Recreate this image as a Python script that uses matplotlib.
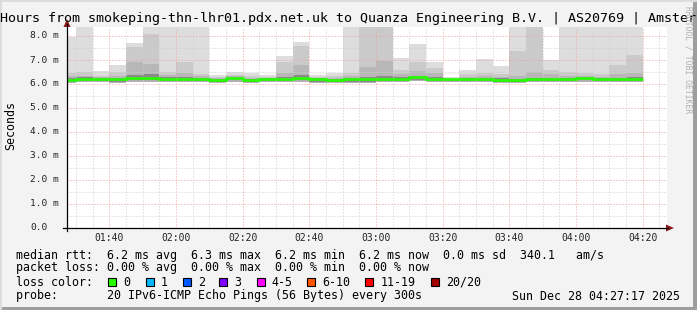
import matplotlib
matplotlib.use("Agg")
import matplotlib.pyplot as plt
import numpy as np
from matplotlib.patches import Polygon, Rectangle
from matplotlib.lines import Line2D

# ---------------- data ----------------
title = "Hours from smokeping-thn-lhr01.pdx.net.uk to Quanza Engineering B.V. | AS20769 | Amster"
bin_start_min = 85          # 01:25, minutes since midnight
bin_step_min = 5
view_start_min = 87 + 17 / 60   # 01:27:17
view_end_min = 267 + 17 / 60    # 04:27:17

# per-bin ping statistics (ms), 35 bins of 5 min
rtt_max = [7.97, 8.6, 6.54, 6.79, 7.69, 8.6, 8.6, 8.6, 8.6, 6.36, 6.50, 6.44, 6.36, 7.17, 7.75, 6.36, 6.44, 8.6,
           8.6, 8.6, 7.08, 7.67, 6.92, 6.29, 6.58, 7.03, 6.75, 8.6, 8.6, 7.00, 8.6, 8.6, 8.6, 8.6, 8.6]
rtt_hi1 = [6.45, 6.50, 6.35, 6.50, 7.56, 8.10, 6.50, 6.92, 6.40, 6.28, 6.38, 6.33, 6.30, 6.92, 7.57, 6.30, 6.32, 6.45,
           8.6, 8.6, 6.58, 6.92, 6.67, 6.25, 6.40, 6.45, 6.40, 7.38, 8.6, 6.58, 6.50, 6.45, 6.40, 6.80, 7.21]
rtt_hi2 = [6.32, 6.35, 6.28, 6.35, 6.90, 6.83, 6.38, 6.45, 6.32, 6.24, 6.32, 6.25, 6.25, 6.45, 6.80, 6.25, 6.25, 6.32,
           6.70, 6.95, 6.40, 6.55, 6.45, 6.22, 6.30, 6.35, 6.30, 6.35, 6.50, 6.40, 6.35, 6.32, 6.30, 6.40, 6.45]
rtt_hi3 = [6.24, 6.28, 6.26, 6.26, 6.36, 6.40, 6.28, 6.30, 6.27, 6.21, 6.28, 6.22, 6.23, 6.30, 6.36, 6.23, 6.21, 6.25,
           6.30, 6.32, 6.28, 6.33, 6.28, 6.22, 6.25, 6.27, 6.23, 6.22, 6.26, 6.25, 6.26, 6.28, 6.24, 6.26, 6.28]
rtt_med = [6.17, 6.22, 6.22, 6.20, 6.25, 6.25, 6.22, 6.22, 6.22, 6.18, 6.25, 6.18, 6.20, 6.22, 6.25, 6.20, 6.18, 6.20,
           6.20, 6.20, 6.22, 6.28, 6.22, 6.20, 6.22, 6.22, 6.18, 6.17, 6.20, 6.20, 6.22, 6.25, 6.20, 6.20, 6.22]
rtt_lo = [6.10, 6.12, 6.12, 6.10, 6.15, 6.15, 6.12, 6.12, 6.12, 6.10, 6.15, 6.10, 6.12, 6.12, 6.15, 6.10, 6.10, 6.10,
          6.10, 6.12, 6.12, 6.18, 6.12, 6.12, 6.12, 6.12, 6.10, 6.10, 6.12, 6.12, 6.12, 6.15, 6.12, 6.12, 6.12]
rtt_min = [6.05, 6.08, 6.08, 6.05, 6.10, 6.10, 6.08, 6.08, 6.08, 6.05, 6.10, 6.05, 6.08, 6.08, 6.10, 6.05, 6.05, 6.05,
           6.05, 6.08, 6.08, 6.12, 6.08, 6.08, 6.08, 6.08, 6.05, 6.05, 6.08, 6.08, 6.08, 6.10, 6.08, 6.08, 6.08]

y_ticks = [0, 1, 2, 3, 4, 5, 6, 7, 8]
y_tick_labels = ["0.0", "1.0 m", "2.0 m", "3.0 m", "4.0 m", "5.0 m", "6.0 m", "7.0 m", "8.0 m"]
x_ticks_min = [100, 120, 140, 160, 180, 200, 220, 240, 260]
x_tick_labels = ["01:40", "02:00", "02:20", "02:40", "03:00", "03:20", "03:40", "04:00", "04:20"]

legend_rtt = "median rtt:  6.2 ms avg  6.3 ms max  6.2 ms min  6.2 ms now  0.0 ms sd  340.1   am/s"
legend_loss = "packet loss: 0.00 % avg  0.00 % max  0.00 % min  0.00 % now"
loss_labels = ["0", "1", "2", "3", "4-5", "6-10", "11-19", "20/20"]
loss_colors = ["#26ff00", "#00b8ff", "#0059ff", "#7e00ff", "#ff00ff", "#ff5500", "#ff0000", "#a10000"]
probe_text = "probe:       20 IPv6-ICMP Echo Pings (56 Bytes) every 300s"
date_text = "Sun Dec 28 04:27:17 2025"
credit = "RRDTOOL / TOBI OETIKER"

# ---------------- layout ----------------
W, H = 697, 310
fig = plt.figure(figsize=(W / 100, H / 100), dpi=100)
fig.patch.set_facecolor("#f3f3f3")

def fx(px):
    return px / W

def fy(py):
    return 1 - py / H

PL, PR, PT, PB = 67, 667, 27, 228
ax = fig.add_axes([fx(PL), fy(PB), fx(PR - PL), (PB - PT) / H])
ax.set_facecolor("white")
for s in ax.spines.values():
    s.set_visible(False)
ax.set_xlim(view_start_min, view_end_min)
ymax = (PB - PT) / 24.0
ax.set_ylim(0, ymax)
ax.set_xticks([])
ax.set_yticks([])

n = len(rtt_med)
edges = bin_start_min + bin_step_min * np.arange(n + 1)

def ext(a):
    a = np.asarray(a, float)
    return np.append(a, a[-1])

# smoke layers
ax.fill_between(edges, ext(rtt_min), ext(rtt_max), step="post", color="#dddddd", lw=0, zorder=2)
ax.fill_between(edges, ext(rtt_lo), ext(rtt_hi1), step="post", color="#cacaca", lw=0, zorder=3)
ax.fill_between(edges, ext(rtt_lo), ext(rtt_hi2), step="post", color="#b7b7b7", lw=0, zorder=4)
ax.fill_between(edges, ext(rtt_lo), ext(rtt_hi3), step="post", color="#8a8a8a", lw=0, zorder=4)
ax.fill_between(edges, ext(rtt_min), ext(rtt_lo), step="post", color="#b0b0b0", lw=0, zorder=4)

# grid
dot = (0, (1, 2))
for m in np.arange(90, view_end_min, 5):
    if m % 20 != 0:
        ax.axvline(m, color="#cfcfcf", lw=0.72, ls=dot, zorder=5)
for m in x_ticks_min:
    ax.axvline(m, color="#f0a0a0", lw=0.72, ls=dot, zorder=5)
for v in np.arange(0.5, ymax, 1.0):
    ax.axhline(v, color="#cfcfcf", lw=0.72, ls=dot, zorder=5)
for v in y_ticks[1:]:
    ax.axhline(v, color="#f0a0a0", lw=0.72, ls=dot, zorder=5)

# median line
ax.step(edges, ext(rtt_med), where="post", color=loss_colors[0], lw=1.9, zorder=6,
        solid_joinstyle="miter", solid_capstyle="butt")

# tick labels
mono = "DejaVu Sans Mono"
for v, lab in zip(y_ticks, y_tick_labels):
    fig.text(fx(30), fy(PB - v * 24), lab, ha="left", va="center", fontsize=6.8, family=mono, color="#222222")
for m, lab in zip(x_ticks_min, x_tick_labels):
    xpx = PL + (m - view_start_min) * (PR - PL) / (view_end_min - view_start_min)
    fig.text(fx(xpx), fy(238), lab, ha="center", va="center", fontsize=7, family=mono, color="#222222")

# axes lines and arrows
fig.add_artist(Line2D([fx(63), fx(668)], [fy(PB), fy(PB)], color="black", lw=0.9))
fig.add_artist(Line2D([fx(PL), fx(PL)], [fy(231), fy(24)], color="black", lw=0.9))
arrow_c = "#8e1c1c"
fig.add_artist(Polygon([[fx(666), fy(224.5)], [fx(674), fy(PB)], [fx(666), fy(231.5)]], closed=True,
                       color=arrow_c, lw=0))
fig.add_artist(Polygon([[fx(63.5), fy(27)], [fx(PL), fy(19)], [fx(70.5), fy(27)]], closed=True,
                       color=arrow_c, lw=0))

# title and axis label
fig.text(fx(0), fy(18.5), title, ha="left", va="center", fontsize=9.6, family=mono, color="black")
fig.text(fx(11), fy(125), "Seconds", ha="center", va="center", rotation=90, fontsize=8.4, family=mono)
fig.text(fx(688), fy(60), credit, ha="center", va="center", rotation=270, fontsize=5.8, family=mono,
         color="#b0b0b0")

# legend
fs = 8.4
fig.text(fx(16), fy(255), legend_rtt, ha="left", va="center", fontsize=fs, family=mono)
fig.text(fx(16), fy(268), legend_loss, ha="left", va="center", fontsize=fs, family=mono)
fig.text(fx(16), fy(282), "loss color:", ha="left", va="center", fontsize=fs, family=mono)
box_x = [108, 145.7, 182.7, 219.3, 256.7, 307.3, 365.3, 430.7]
for bx, lab, col in zip(box_x, loss_labels, loss_colors):
    fig.add_artist(Rectangle((fx(bx), fy(286)), 8 / W, 8 / H, facecolor=col, edgecolor="black", lw=0.8))
    fig.text(fx(bx + 15), fy(282), lab, ha="left", va="center", fontsize=fs, family=mono)
fig.text(fx(16), fy(296), probe_text, ha="left", va="center", fontsize=fs, family=mono)
fig.text(fx(680), fy(296), date_text, ha="right", va="center", fontsize=fs, family=mono)

# frame shading
fig.add_artist(Rectangle((0, 0), 1, 3 / H, facecolor="#9e9e9e", lw=0))
fig.add_artist(Rectangle((1 - 4 / W, 0), 4 / W, 1, facecolor="#9e9e9e", lw=0))
fig.add_artist(Rectangle((0, 1 - 2 / H), 1, 2 / H, facecolor="#dcdcdc", lw=0))
fig.add_artist(Rectangle((0, 0), 2 / W, 1, facecolor="#dcdcdc", lw=0))

fig.savefig("out.png", dpi=100, facecolor=fig.get_facecolor())
